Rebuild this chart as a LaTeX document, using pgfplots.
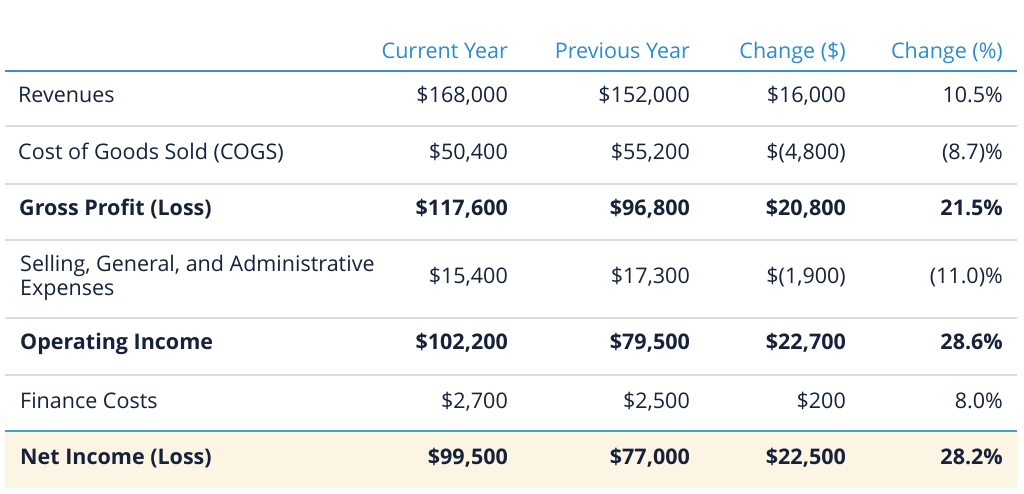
\documentclass[border=0pt]{standalone}
\usepackage{fontspec}
\setmainfont{Open Sans}
\usepackage{pgfplots}
\usepackage{pgfplotstable}
\pgfplotsset{compat=1.18}
\definecolor{navy}{HTML}{16213A}
\definecolor{hdrblue}{HTML}{2A8BCF}
\definecolor{hdrline}{HTML}{3B8FD0}
\definecolor{sepgray}{HTML}{DCDCDC}
\definecolor{tealline}{HTML}{4AA2C2}
\definecolor{cream}{HTML}{FDF5E3}

\pgfplotstableread[col sep=semicolon]{
x;y;t
508;52;Current Year
690;52;Previous Year
846;52;Change (\$)
1003;52;Change (\%)
}\hdr

\pgfplotstableread[col sep=semicolon]{
x;y;t
508;96;\$168,000
690;96;\$152,000
846;96;\$16,000
1003;96;10.5\%
508;153;\$50,400
690;153;\$55,200
846;153;\$(4,800)
1003;153;(8.7)\%
508;277;\$15,400
690;277;\$17,300
846;277;\$(1,900)
1003;277;(11.0)\%
508;402;\$2,700
690;402;\$2,500
846;402;\$200
1003;402;8.0\%
}\vals

\pgfplotstableread[col sep=semicolon]{
x;y;t
508;209;\$117,600
690;209;\$96,800
846;209;\$20,800
1003;209;21.5\%
508;343;\$102,200
690;343;\$79,500
846;343;\$22,700
1003;343;28.6\%
508;458;\$99,500
690;458;\$77,000
846;458;\$22,500
1003;458;28.2\%
}\bvals

\pgfplotstableread[col sep=semicolon]{
x;y;t
18;96;Revenues
18;153;Cost of Goods Sold (COGS)
20;265;Selling, General, and Administrative
20;289;Expenses
20;402;Finance Costs
}\labs

\pgfplotstableread[col sep=semicolon]{
x;y;t
19;209;Gross Profit (Loss)
20;343;Operating Income
20;458;Net Income (Loss)
}\blabs

\begin{document}
\begin{tikzpicture}
\begin{axis}[
  scale only axis, width=1024pt, height=494pt,
  xmin=0, xmax=1024, ymin=0, ymax=494, y dir=reverse,
  hide axis, clip=false,
  point meta=explicit symbolic,
  every node near coord/.append style={inner sep=0pt, yshift=-4pt},
]
% highlight background
\addplot[fill=cream, draw=none] coordinates {(5,432) (1017,432) (1017,488) (5,488) (5,432)};
% rules
\addplot[draw=hdrline, line width=1.6pt] coordinates {(5,71) (1017,71)};
\addplot[draw=sepgray, line width=1.1pt] coordinates {(5,126) (1017,126)};
\addplot[draw=sepgray, line width=1.1pt] coordinates {(5,184) (1017,184)};
\addplot[draw=sepgray, line width=1.1pt] coordinates {(5,240) (1017,240)};
\addplot[draw=sepgray, line width=1.1pt] coordinates {(5,318) (1017,318)};
\addplot[draw=sepgray, line width=1.1pt] coordinates {(5,375) (1017,375)};
\addplot[draw=tealline, line width=1.6pt] coordinates {(5,431) (1017,431)};
% headers
\addplot[draw=none, mark=none, nodes near coords,
  every node near coord/.append style={anchor=mid east, text=hdrblue, font=\fontsize{21.5}{25}\selectfont}]
  table[x=x, y=y, meta=t] {\hdr};
% values
\addplot[draw=none, mark=none, nodes near coords,
  every node near coord/.append style={anchor=mid east, text=navy, font=\fontsize{21.5}{25}\selectfont}]
  table[x=x, y=y, meta=t] {\vals};
\addplot[draw=none, mark=none, nodes near coords,
  every node near coord/.append style={anchor=mid east, text=navy, font=\fontsize{21.5}{25}\selectfont\bfseries}]
  table[x=x, y=y, meta=t] {\bvals};
% row labels
\addplot[draw=none, mark=none, nodes near coords,
  every node near coord/.append style={anchor=mid west, text=navy, font=\fontsize{21.5}{25}\selectfont}]
  table[x=x, y=y, meta=t] {\labs};
\addplot[draw=none, mark=none, nodes near coords,
  every node near coord/.append style={anchor=mid west, text=navy, font=\fontsize{21.5}{25}\selectfont\bfseries}]
  table[x=x, y=y, meta=t] {\blabs};
\end{axis}
\pgfresetboundingbox
\path (current axis.south west) rectangle (current axis.north east);
\end{tikzpicture}
\end{document}
